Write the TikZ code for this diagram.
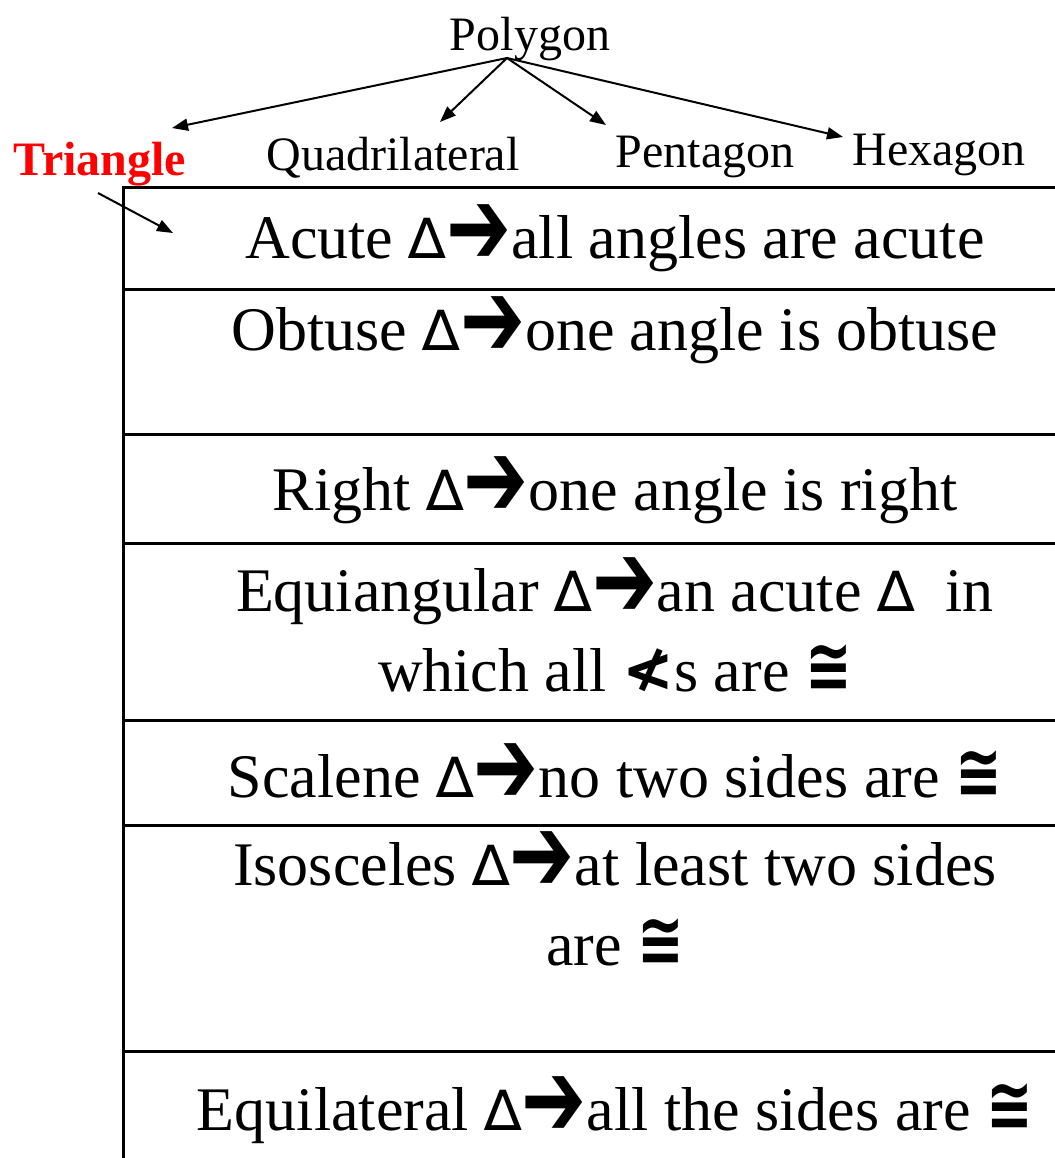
\documentclass[tikz,border=0pt]{standalone}
\usepackage{fontspec}
\usepackage{graphicx}
\setmainfont{Liberation Serif}
\newfontfamily\symfont{DejaVu Sans}
\usepackage{xcolor}
\usetikzlibrary{arrows.meta, positioning}
\definecolor{cR}{RGB}{255,0,0}
\newcommand{\tri}{{\symfont\fontsize{28}{30}\selectfont ∆}}
\newcommand{\goesto}{\smash{\raisebox{-0.1em}{\scalebox{1.25}[1.75]{\symfont\bfseries ➔}}}}
\newcommand{\angsym}{{\symfont\bfseries ≮}}
\newcommand{\congsym}{\smash{\scalebox{0.9}[1.2]{\symfont\bfseries ≅}}}

\begin{document}
\begin{tikzpicture}[x=0.5pt, y=-0.5pt,
    toplabel/.style={anchor=base, inner sep=0pt, font=\fontsize{24}{28}\selectfont},
    rowtext/.style={anchor=base, inner sep=0pt, align=center, font=\fontsize{31}{40}\selectfont},
    tblline/.style={line width=1.5pt},
    branch/.style={line width=1pt, -{Triangle[length=8pt, width=6pt]}}]
    \useasboundingbox (0,0) rectangle (1055,1158);

    % Polygon and its kinds
    \node[toplabel] (poly) at (530, 50) {Polygon};
    \node[toplabel, text=cR, font=\fontsize{24}{28}\selectfont\bfseries] (tri) at (100, 175) {Triangle};
    \node[toplabel] (quad) at (393, 170) {Quadrilateral};
    \node[toplabel] (pent) at (705, 167) {Pentagon};
    \node[toplabel] (hexa) at (939, 165) {Hexagon};

    % Arrow ends
    \coordinate (src) at (507, 58);
    \coordinate (triEnd) at (172, 128);
    \coordinate (quadEnd) at (440, 122);
    \coordinate (pentEnd) at (606, 125);
    \coordinate (hexaEnd) at (843, 137);
    \coordinate (triStart) at (98, 193);
    \coordinate (rowEnd) at (173, 233);

    \draw[branch] (src) -- (triEnd);
    \draw[branch] (src) -- (quadEnd);
    \draw[branch] (src) -- (pentEnd);
    \draw[branch] (src) -- (hexaEnd);
    \draw[branch] (triStart) -- (rowEnd);

    % Table of triangles
    \draw[tblline] (1055,187) -- (123,187) -- (123,1158);
    \foreach \y in {289, 434, 543, 720, 825, 1051}
        \draw[tblline] (123,\y) -- (1055,\y);

    % Rows
    \node[rowtext] (acute) at (615, 258) {Acute \tri\goesto all angles are acute};
    \node[rowtext] (obtuse) at (615, 350) {Obtuse \tri\goesto one angle is obtuse};
    \node[rowtext] (right) at (615, 510) {Right \tri\goesto one angle is right};
    \node[rowtext, anchor=north] (equiang) at (615, 568) {Equiangular \tri\goesto an acute \tri\ \ in\\which all \angsym s are \congsym};
    \node[rowtext] (scalene) at (615, 797) {Scalene \tri\goesto no two sides are \congsym};
    \node[rowtext, anchor=north] (isosc) at (615, 842) {Isosceles \tri\goesto at least two sides\\are \congsym};
    \node[rowtext] (equilat) at (615, 1130) {Equilateral \tri\goesto all the sides are \congsym};
\end{tikzpicture}
\end{document}
